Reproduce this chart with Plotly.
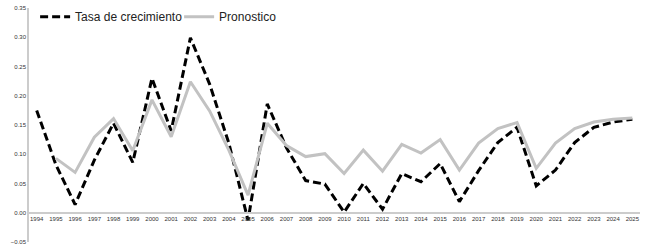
import plotly.graph_objects as go

years = list(range(1994, 2026))
tasa = [0.175, 0.082, 0.014, 0.090, 0.153, 0.086, 0.230, 0.140, 0.299, 0.220,
        0.119, -0.013, 0.186, 0.111, 0.055, 0.049, 0.001, 0.050, 0.006, 0.067,
        0.053, 0.084, 0.019, 0.072, 0.120, 0.146, 0.046, 0.073, 0.120, 0.146,
        0.155, 0.160]
prono_years = list(range(1995, 2026))
prono = [0.093, 0.069, 0.129, 0.161, 0.106, 0.193, 0.130, 0.224, 0.174, 0.107,
         0.030, 0.153, 0.115, 0.096, 0.101, 0.067, 0.107, 0.071, 0.117, 0.102,
         0.125, 0.073, 0.119, 0.144, 0.154, 0.076, 0.119, 0.144, 0.155, 0.160,
         0.162]
y_ticks = [-0.05, 0.0, 0.05, 0.10, 0.15, 0.20, 0.25, 0.30, 0.35]

fig = go.Figure()
fig.add_trace(go.Scatter(x=years, y=tasa, mode="lines", name="Tasa de crecimiento",
                         line=dict(color="#000000", width=3, dash="8px,4px")))
fig.add_trace(go.Scatter(x=prono_years, y=prono, mode="lines", name="Pronostico",
                         line=dict(color="#c2c2c2", width=3)))

fig.update_layout(
    width=650, height=252,
    margin=dict(l=29, r=10, t=8, b=10, autoexpand=False),
    paper_bgcolor="white", plot_bgcolor="white",
    font=dict(family="Liberation Sans, Arial, sans-serif", color="#333333"),
    showlegend=True,
    legend=dict(orientation="h", x=0.01, xanchor="left", y=1.025, yanchor="top",
                font=dict(size=12, color="#222222"), bgcolor="rgba(0,0,0,0)",
                itemwidth=30, tracegroupgap=0, entrywidth=99, entrywidthmode="pixels"),
    xaxis=dict(range=[1993.6, 2025.4], tickmode="array", tickvals=years,
               ticktext=[str(y) for y in years], tickangle=0,
               tickfont=dict(size=6, color="#333333"),
               showgrid=False, zeroline=False, showline=True,
               linecolor="#cccccc", linewidth=2, ticks="",
               anchor="free", position=0.125, automargin=False),
    yaxis=dict(range=[-0.05, 0.35], tickmode="array", tickvals=y_ticks,
               tickformat=".2f", tickfont=dict(size=6, color="#333333"),
               showgrid=False, zeroline=False, showline=True,
               linecolor="#cccccc", linewidth=1.5, ticks="", automargin=False),
)

fig.write_html("out.html", config={"displayModeBar": False},
               post_script="document.body.style.margin='0';document.body.style.overflow='hidden';")
